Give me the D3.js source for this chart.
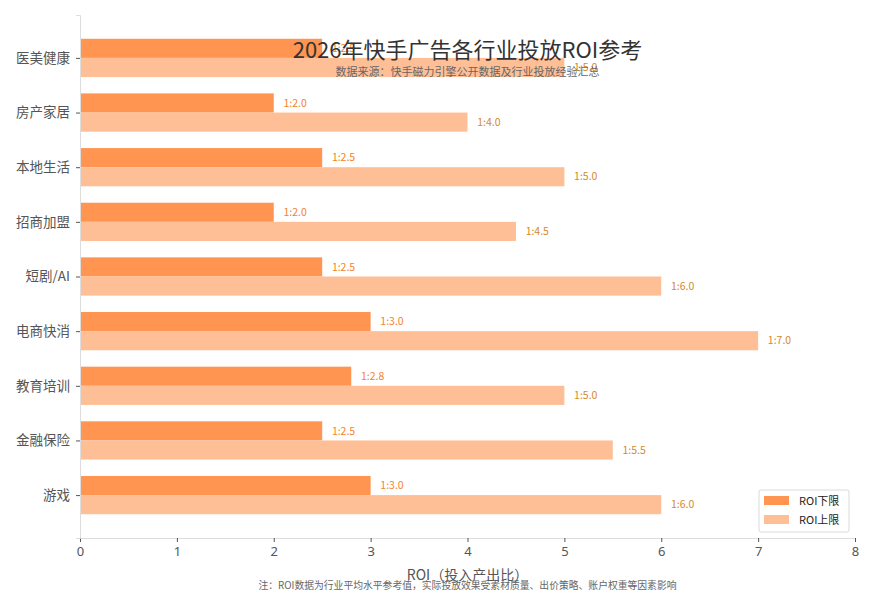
<!DOCTYPE html>
<html>
<head>
<meta charset="utf-8">
<script src="https://cdn.jsdelivr.net/npm/d3@7"></script>
<style>
  body { margin: 0; background: #fff; }
  text { font-family: "Noto Sans CJK SC", "Noto Sans", sans-serif; }
</style>
</head>
<body>
<div id="container"></div>
<script>
/* DATA */
const categories = ["医美健康", "房产家居", "本地生活", "招商加盟", "短剧/AI", "电商快消", "教育培训", "金融保险", "游戏"];
const roiLow = [2.5, 2.0, 2.5, 2.0, 2.5, 3.0, 2.8, 2.5, 3.0];
const roiHigh = [5.0, 4.0, 5.0, 4.5, 6.0, 7.0, 5.0, 5.5, 6.0];
const xTicks = [0, 1, 2, 3, 4, 5, 6, 7, 8];
const seriesNames = ["ROI下限", "ROI上限"];

/* CONSTANTS */
const W = 874, H = 606;
const margin = {top: 15, right: 19, bottom: 68, left: 80};
const width = W - margin.left - margin.right;
const height = H - margin.top - margin.bottom;
const barH = 0.35;
const colLow = "#ff9550", colHigh = "#ffbf96";
const txtLow = "#f5822a", txtHigh = "#d4892a";

const svg = d3.select("#container").append("svg")
    .attr("width", W)
    .attr("height", H);

const g = svg.append("g")
    .attr("transform", "translate(" + margin.left + "," + margin.top + ")");

const xScale = d3.scaleLinear().domain([0, 8]).range([0, width]);
// matplotlib-style ylim, first category at top
const yScale = d3.scaleLinear().domain([-0.35 - 0.435, categories.length - 1 + 0.35 + 0.435]).range([0, height]);

const data = categories.map((c, i) => ({cat: c, i: i, low: roiLow[i], high: roiHigh[i]}));

// bars
g.selectAll("rect.low")
  .data(data)
  .join("rect")
  .attr("class", "low")
  .attr("x", xScale(0))
  .attr("y", d => yScale(d.i - barH))
  .attr("width", d => xScale(d.low) - xScale(0))
  .attr("height", yScale(barH) - yScale(0))
  .attr("fill", colLow);

g.selectAll("rect.high")
  .data(data)
  .join("rect")
  .attr("class", "high")
  .attr("x", xScale(0))
  .attr("y", d => yScale(d.i))
  .attr("width", d => xScale(d.high) - xScale(0))
  .attr("height", yScale(barH) - yScale(0))
  .attr("fill", colHigh);

// value labels
g.selectAll("text.lowlab")
  .data(data)
  .join("text")
  .attr("class", "lowlab")
  .attr("x", d => xScale(d.low + 0.1))
  .attr("y", d => yScale(d.i - barH / 2))
  .attr("dy", "0.35em")
  .style("font-size", "10.5px")
  .style("fill", txtLow)
  .text(d => "1:" + d.low.toFixed(1));

g.selectAll("text.highlab")
  .data(data)
  .join("text")
  .attr("class", "highlab")
  .attr("x", d => xScale(d.high + 0.1))
  .attr("y", d => yScale(d.i + barH / 2))
  .attr("dy", "0.35em")
  .style("font-size", "10.5px")
  .style("fill", txtHigh)
  .text(d => "1:" + d.high.toFixed(1));

// axes
const xAxis = g.append("g")
  .attr("transform", "translate(0," + height + ")")
  .call(d3.axisBottom(xScale).tickValues(xTicks).tickFormat(d3.format("d")).tickSizeOuter(0).tickSize(4).tickPadding(5));
xAxis.select(".domain").attr("stroke", "#dddddd");
xAxis.selectAll(".tick line").attr("stroke", "#555");
xAxis.selectAll("text").style("font-size", "13px").style("fill", "#555")
  .style("font-family", "'Noto Sans', sans-serif");

const yAxis = g.append("g")
  .call(d3.axisLeft(yScale).tickValues(d3.range(categories.length)).tickFormat(i => categories[i]).tickSizeOuter(0).tickSize(4).tickPadding(6));
yAxis.select(".domain").attr("stroke", "#dddddd");
yAxis.selectAll(".tick line").attr("stroke", "#555");
yAxis.selectAll("text").style("font-size", "13.5px").style("fill", "#555");

// labels
g.append("text")
  .attr("x", width / 2)
  .attr("y", height + 42)
  .attr("text-anchor", "middle")
  .style("font-size", "14px")
  .style("fill", "#555")
  .text("ROI（投入产出比）");

svg.append("text")
  .attr("x", margin.left + width / 2)
  .attr("y", 589)
  .attr("text-anchor", "middle")
  .style("font-size", "9.8px")
  .style("fill", "#666")
  .text("注：ROI数据为行业平均水平参考值，实际投放效果受素材质量、出价策略、账户权重等因素影响");

// title
svg.append("text")
  .attr("x", margin.left + width / 2)
  .attr("y", 58)
  .attr("text-anchor", "middle")
  .style("font-size", "22px")
  .style("fill", "#333")
  .text("2026年快手广告各行业投放ROI参考");

svg.append("text")
  .attr("x", margin.left + width / 2)
  .attr("y", 76)
  .attr("text-anchor", "middle")
  .style("font-size", "11px")
  .style("fill", "#666")
  .text("数据来源：快手磁力引擎公开数据及行业投放经验汇总");

// legend
const legend = svg.append("g").attr("transform", "translate(759,490)");
legend.append("rect")
  .attr("width", 90).attr("height", 42)
  .attr("rx", 2)
  .attr("fill", "#fff")
  .attr("fill-opacity", 0.8)
  .attr("stroke", "#d9d9d9");
const lg = legend.selectAll("g.item")
  .data(seriesNames)
  .join("g")
  .attr("class", "item")
  .attr("transform", (d, i) => "translate(5," + (6 + i * 19) + ")");
lg.append("rect")
  .attr("width", 25).attr("height", 9)
  .attr("y", 0)
  .attr("fill", (d, i) => i === 0 ? colLow : colHigh);
lg.append("text")
  .attr("x", 35)
  .attr("y", 5)
  .attr("dy", "0.35em")
  .style("font-size", "11px")
  .style("fill", "#222")
  .text(d => d);
</script>
</body>
</html>
